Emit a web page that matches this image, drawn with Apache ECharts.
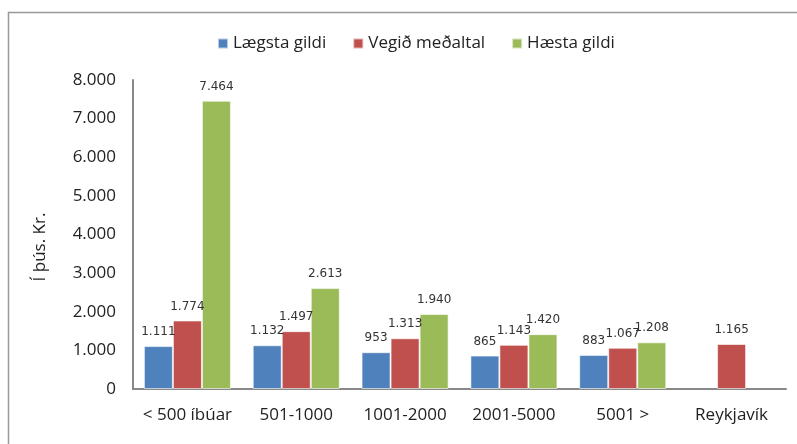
<!DOCTYPE html>
<html>
<head>
<meta charset="utf-8">
<script src="https://cdn.jsdelivr.net/npm/echarts@6/dist/echarts.min.js"></script>
<style>
  html, body { margin: 0; padding: 0; background: #fff; }
  #chart { width: 797px; height: 444px; }
</style>
</head>
<body>
<div id="chart"></div>
<script>
// Categories and series values (þús. kr.)
var categories = ['< 500 íbúar', '501-1000', '1001-2000', '2001-5000', '5001 >', 'Reykjavík'];
var seriesNames = ['Lægsta gildi', 'Vegið meðaltal', 'Hæsta gildi'];
var lowest = [1111, 1132, 953, 865, 883, null];
var weightedMean = [1774, 1497, 1313, 1143, 1067, 1165];
var highest = [7464, 2613, 1940, 1420, 1208, null];
var colors = ['#4F81BD', '#C0504D', '#9BBB59'];

var axisFont = '"Open Sans", Lato, sans-serif';

function fmt(v) {
  return String(v).replace(/\B(?=(\d{3})+(?!\d))/g, '.');
}

var chart = echarts.init(document.getElementById('chart'), null, { renderer: 'canvas' });

function makeSeries(name, data, color) {
  return {
    name: name,
    type: 'bar',
    data: data,
    barGap: '0%',
    barCategoryGap: '20%',
    itemStyle: { color: color, borderColor: 'rgba(255,255,255,0.6)', borderWidth: 1 },
    label: {
      show: true,
      position: 'top',
      distance: 8,
      color: '#333',
      fontFamily: '"DejaVu Sans", sans-serif',
      fontSize: 12,
      formatter: function (p) { return p.value == null ? '' : fmt(p.value); }
    }
  };
}

chart.setOption({
  animation: false,
  color: colors,
  legend: {
    top: 30,
    left: 212,
    itemWidth: 10,
    itemHeight: 10,
    itemGap: 26,
    icon: 'rect',
    textStyle: { fontFamily: axisFont, fontSize: 17, color: '#222' },
    data: seriesNames
  },
  grid: { left: 133, right: 11, top: 80, bottom: 55, containLabel: false },
  xAxis: {
    type: 'category',
    data: categories,
    axisLine: { lineStyle: { color: '#888', width: 2 } },
    axisTick: { show: false },
    axisLabel: { fontFamily: axisFont, fontSize: 17, color: '#222', margin: 18, interval: 0 }
  },
  yAxis: {
    type: 'value',
    min: 0,
    max: 8000,
    interval: 1000,
    axisLine: { show: true, lineStyle: { color: '#888', width: 2 } },
    axisTick: { show: false },
    splitLine: { show: false },
    axisLabel: {
      fontFamily: axisFont, fontSize: 17, color: '#222', margin: 17,
      formatter: function (v) { return fmt(v); }
    }
  },
  graphic: [
    {
      type: 'rect',
      shape: { x: 8.5, y: 12.5, width: 800, height: 440 },
      style: { fill: 'none', stroke: '#999', lineWidth: 1.5 },
      silent: true
    },
    {
      type: 'text',
      x: 40,
      y: 247,
      rotation: Math.PI / 2,
      style: {
        text: 'Í þús. Kr.',
        fontFamily: axisFont,
        fontSize: 17,
        fill: '#222',
        align: 'center',
        verticalAlign: 'middle'
      }
    }
  ],
  series: [
    makeSeries(seriesNames[0], lowest, colors[0]),
    makeSeries(seriesNames[1], weightedMean, colors[1]),
    makeSeries(seriesNames[2], highest, colors[2])
  ]
});
</script>
</body>
</html>
